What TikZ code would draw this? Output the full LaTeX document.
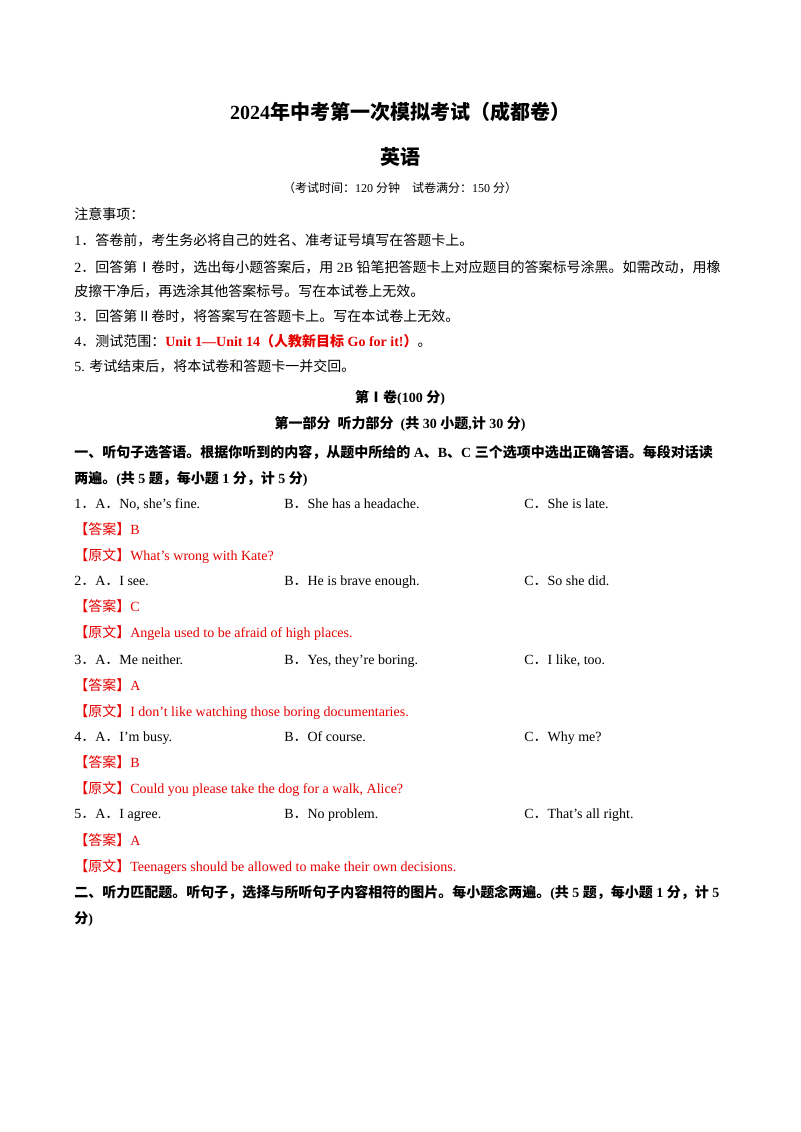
\documentclass[tikz,border=0pt]{standalone}
\usepackage{fontspec}
\setmainfont{Liberation Serif}
\newfontfamily\cjk{Noto Sans CJK SC}
\XeTeXinterchartokenstate=1
\newXeTeXintercharclass\CJKcls
\makeatletter
\def\setcls#1#2{\count@=#1\relax\loop\XeTeXcharclass\count@=\CJKcls\ifnum\count@<#2\advance\count@ by 1\repeat}
\setcls{"3000}{"303F}
\setcls{"4E00}{"9FFF}
\setcls{"FF00}{"FFEF}
\setcls{"2160}{"216F}
\makeatother
\XeTeXinterchartoks 0 \CJKcls = {\begingroup\cjk}
\XeTeXinterchartoks 4095 \CJKcls = {\begingroup\cjk}
\XeTeXinterchartoks \CJKcls 0 = {\endgroup}
\XeTeXinterchartoks \CJKcls 4095 = {\endgroup}
\definecolor{ans}{RGB}{230,0,0}
\tikzset{t/.style={anchor=base west,inner sep=0pt,yshift=-3.8pt,font=\fontsize{10.5}{12}\selectfont},
 b/.style={t,font=\fontsize{10.5}{12}\selectfont\bfseries},
 r/.style={t,text=ans},
 c/.style={anchor=base,inner sep=0pt,yshift=-3.8pt,font=\fontsize{10.5}{12}\selectfont\bfseries}}
\begin{document}
\begin{tikzpicture}[x=0.75pt,y=-0.75pt]
\useasboundingbox (0,0) rectangle (800,1132);
\node[anchor=base,inner sep=0pt,font=\fontsize{15}{18}\selectfont\bfseries] (title) at (400,119) {2024年中考第一次模拟考试（成都卷）};
\node[anchor=base,inner sep=0pt,font=\fontsize{15}{18}\selectfont\bfseries] (sub) at (400,164) {英语};
\node[anchor=base,inner sep=0pt,font=\fontsize{9}{11}\selectfont] (time) at (400,192) {（考试时间：120 分钟\quad 试卷满分：150 分）};
\node[t] (n0) at (74,214) {注意事项：};
\node[t] (n1) at (74,240) {1．答卷前，考生务必将自己的姓名、准考证号填写在答题卡上。};
\node[t] (n2) at (74,267) {2．回答第Ⅰ卷时，选出每小题答案后，用 2B 铅笔把答题卡上对应题目的答案标号涂黑。如需改动，用橡};
\node[t] (n2b) at (74,291) {皮擦干净后，再选涂其他答案标号。写在本试卷上无效。};
\node[t] (n3) at (74,316) {3．回答第Ⅱ卷时，将答案写在答题卡上。写在本试卷上无效。};
\node[t] (n4) at (74,341) {4．测试范围：{\color{ans}\bfseries Unit 1—Unit 14（人教新目标 Go for it!）}。};
\node[t] (n5) at (74,366) {5. 考试结束后，将本试卷和答题卡一并交回。};
\node[c] (v1) at (400,397) {第Ⅰ卷(100 分)};
\node[c] (p1) at (400,423) {第一部分\ \ 听力部分\ \ (共 30 小题,计 30 分)};
\node[b] (s1) at (74,452) {一、听句子选答语。根据你听到的内容，从题中所给的 A、B、C 三个选项中选出正确答语。每段对话读};
\node[b] (s1b) at (74,478) {两遍。(共 5 题，每小题 1 分，计 5 分)};
\node[t] (q1a) at (74,503) {1．A．No, she’s fine.};
\node[t] (q1b) at (284,503) {B．She has a headache.};
\node[t] (q1c) at (524,503) {C．She is late.};
\node[r] (a1) at (74,529) {【答案】B};
\node[r] (y1) at (74,555) {【原文】What’s wrong with Kate?};
\node[t] (q2a) at (74,580) {2．A．I see.};
\node[t] (q2b) at (284,580) {B．He is brave enough.};
\node[t] (q2c) at (524,580) {C．So she did.};
\node[r] (a2) at (74,606) {【答案】C};
\node[r] (y2) at (74,632) {【原文】Angela used to be afraid of high places.};
\node[t] (q3a) at (74,659) {3．A．Me neither.};
\node[t] (q3b) at (284,659) {B．Yes, they’re boring.};
\node[t] (q3c) at (524,659) {C．I like, too.};
\node[r] (a3) at (74,685) {【答案】A};
\node[r] (y3) at (74,711) {【原文】I don’t like watching those boring documentaries.};
\node[t] (q4a) at (74,736) {4．A．I’m busy.};
\node[t] (q4b) at (284,736) {B．Of course.};
\node[t] (q4c) at (524,736) {C．Why me?};
\node[r] (a4) at (74,762) {【答案】B};
\node[r] (y4) at (74,788) {【原文】Could you please take the dog for a walk, Alice?};
\node[t] (q5a) at (74,813) {5．A．I agree.};
\node[t] (q5b) at (284,813) {B．No problem.};
\node[t] (q5c) at (524,813) {C．That’s all right.};
\node[r] (a5) at (74,840) {【答案】A};
\node[r] (y5) at (74,866) {【原文】Teenagers should be allowed to make their own decisions.};
\node[b] (s2) at (74,892) {二、听力匹配题。听句子，选择与所听句子内容相符的图片。每小题念两遍。(共 5 题，每小题 1 分，计 5};
\node[b] (s2b) at (74,918) {分)};
\end{tikzpicture}
\end{document}
